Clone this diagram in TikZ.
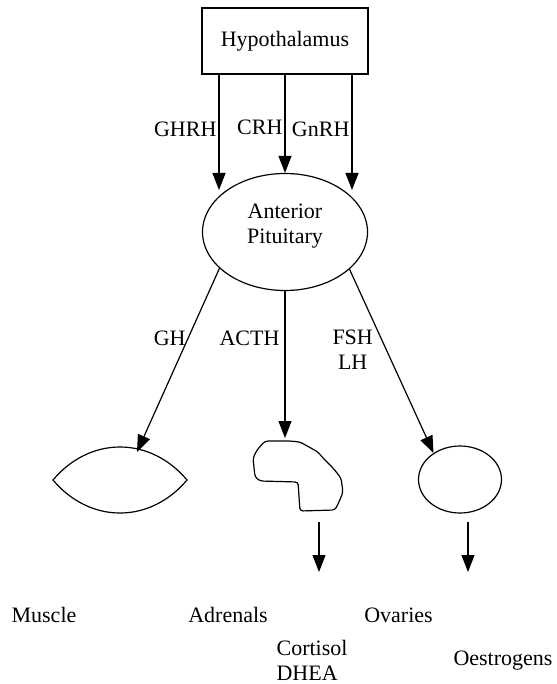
\documentclass[tikz,border=0pt]{standalone}
\usepackage{fontspec}
\setmainfont{Liberation Serif}
\usetikzlibrary{arrows.meta,shapes.geometric}

\begin{document}
\begin{tikzpicture}[x=0.5pt,y=-0.5pt]
        \useasboundingbox (0,0) rectangle (556,684);
        \begin{scope}[every node/.style={font=\fontsize{11}{12.5}\selectfont, inner sep=1pt}, every path/.style={line width=0.6pt}, arr/.style={-{Triangle[length=8.5pt,width=6.5pt]}}]
                \node[draw, minimum width=83pt, minimum height=33pt] (Hyp) at (285,41) {Hypothalamus};
                \node[draw, ellipse, align=center, minimum width=82.5pt, minimum height=58.5pt, text depth=8.5pt] (Pit) at (285,232) {Anterior\\Pituitary};
                \node[draw, ellipse, minimum width=41.5pt, minimum height=33.5pt, inner sep=0pt] (Ova) at (460,479.5) {};

                \draw (53,480) .. controls (90,436) and (150,436) .. (187,480) .. controls (150,524) and (90,524) .. cycle;
                \draw[rounded corners=1.5pt] (265,441) -- (290,441) -- (300,442) -- (318,452) -- (323,458) -- (333,468) -- (341,478) -- (343,492) -- (339,502) -- (335,510) -- (300,511) -- (298,482) -- (260,481) -- (255,477) -- (253,458) -- (257,450) -- cycle;

                \coordinate (GHRHtip) at (219,190);
                \coordinate (GnRHtip) at (352,190);
                \coordinate (GHtip) at (137,452);
                \coordinate (ACTHtip) at (285,438);
                \coordinate (CortFrom) at (319,522);
                \coordinate (CortTo) at (319,572);
                \coordinate (OesFrom) at (468,522);
                \coordinate (OesTo) at (468,572);

                \path (Hyp.south -| GHRHtip) edge[arr] node[left,pos=.47] {GHRH} (GHRHtip);
                \path (Hyp) edge[arr] node[left,pos=.54] {CRH} (Pit);
                \path (Hyp.south -| GnRHtip) edge[arr] node[left,pos=.47] {GnRH} (GnRHtip);
                \path (Pit.209.5) edge[arr] node[left,pos=.38] {GH} (GHtip);
                \path (Pit) edge[arr] node[left,pos=.32,xshift=-1.5pt] {ACTH} (ACTHtip);
                \path (Pit.330.5) edge[arr] node[left,pos=.44,xshift=-5.5pt,align=center] {FSH\\LH} (Ova.135);
                \path (CortFrom) edge[arr] (CortTo);
                \path (OesFrom) edge[arr] (OesTo);

                \node[anchor=base] (Mus) at (44,622) {Muscle};
                \node[anchor=base] (Adr) at (228,622) {Adrenals};
                \node[anchor=base] (Ovs) at (398.5,622) {Ovaries};
                \node[anchor=north west, inner sep=0pt, align=left] (Cort) at (276,640) {Cortisol\\DHEA};
                \node[anchor=base] (Oes) at (503,665) {Oestrogens};
        \end{scope}
\end{tikzpicture}
\end{document}
